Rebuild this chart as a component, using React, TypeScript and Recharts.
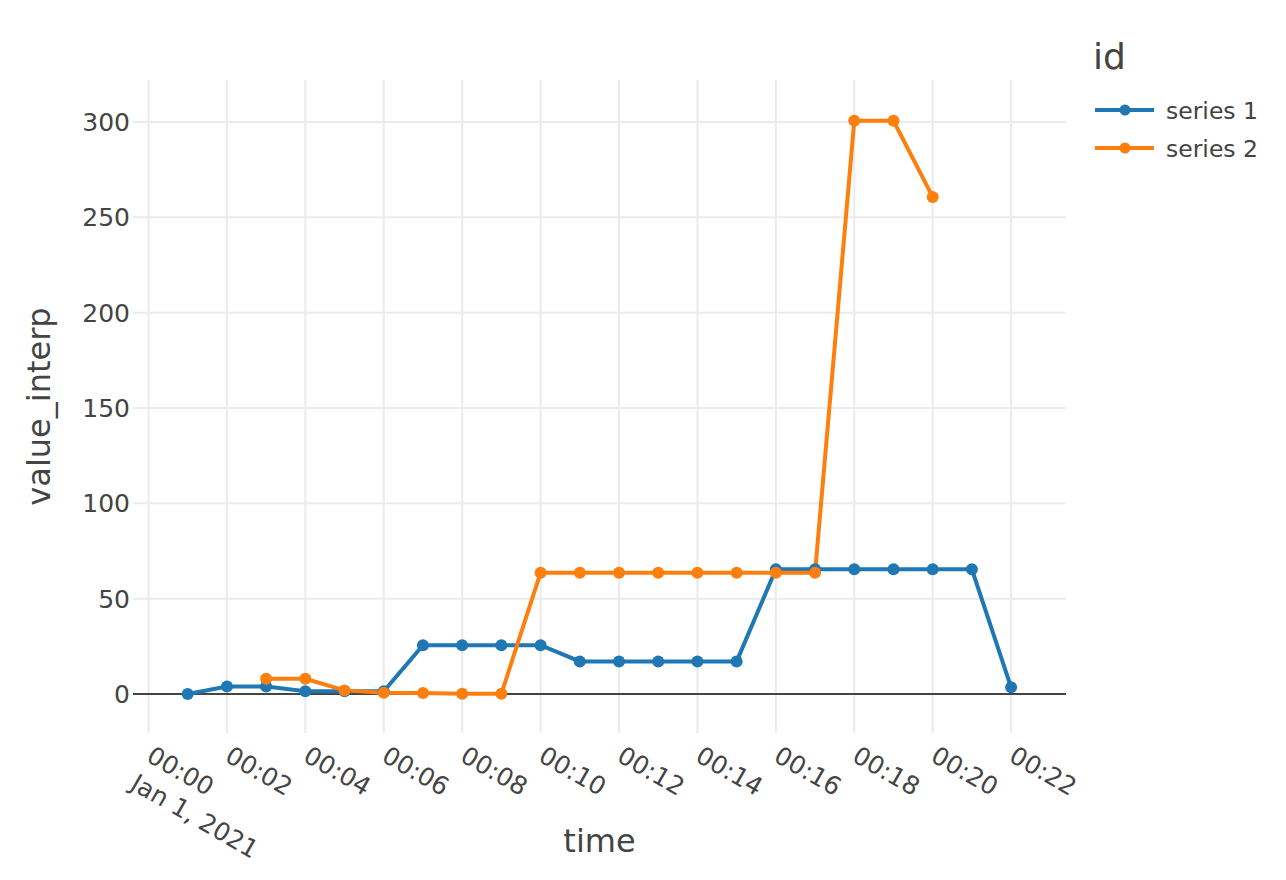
import { LineChart, Line, XAxis, YAxis, ReferenceLine, Legend } from "recharts";

// minutes after 2021-01-01 00:00
const minutes = [1, 2, 3, 4, 5, 6, 7, 8, 9, 10, 11, 12, 13, 14, 15, 16, 17, 18, 19, 20, 21, 22];

// value_interp per id (null where the series has no point)
const series1 = [0, 3.9, 3.9, 1.4, 1.4, 1.4, 25.6, 25.6, 25.6, 25.6, 17.1, 17.1, 17.1, 17.1, 17.1, 65.4, 65.4, 65.4, 65.4, 65.4, 65.4, 3.5];
const series2 = [null, null, 8, 8, 1.9, 0.7, 0.5, 0.1, 0.1, 63.6, 63.6, 63.6, 63.6, 63.6, 63.6, 63.6, 63.6, 300.6, 300.6, 260.7, null, null];

const xTicks = [0, 2, 4, 6, 8, 10, 12, 14, 16, 18, 20, 22];
const yTicks = [0, 50, 100, 150, 200, 250, 300];

const seriesNames = ["series 1", "series 2"];
const COLORS = ["#1f77b4", "#ff7f0e"];

const FONT = "'DejaVu Sans', Verdana, sans-serif";
const TEXT = "#444";
const GRID = "#ebebeb";

const data = minutes.map((t, i) => ({ t, s1: series1[i], s2: series2[i] }));

const pad = (n: number) => String(n).padStart(2, "0");

// rotated date tick, first one also carries the date line
function TimeTick(props: any) {
  const { x, y, payload, index } = props;
  const m = payload.value;
  return (
    <g transform={`translate(${x - 3.5},${y + 21.5})`}>
      <text transform="rotate(30)" textAnchor="start" fill={TEXT} fontSize={25} fontFamily={FONT}>
        <tspan x={0} y={0}>{`${pad(Math.floor(m / 60))}:${pad(m % 60)}`}</tspan>
        {index === 0 && (
          <tspan x={0} dy={32}>
            Jan 1, 2021
          </tspan>
        )}
      </text>
    </g>
  );
}

function XTitle(props: any) {
  const { x, y, width } = props.viewBox;
  return (
    <text x={x + width / 2} y={y + 119} textAnchor="middle" fill={TEXT} fontSize={32} fontFamily={FONT}>
      time
    </text>
  );
}

function YTitle(props: any) {
  const { y, height } = props.viewBox;
  const cy = y + height / 2;
  return (
    <text
      transform={`translate(50,${cy}) rotate(-90)`}
      textAnchor="middle"
      fill={TEXT}
      fontSize={32}
      fontFamily={FONT}
    >
      value_interp
    </text>
  );
}

function LegendBox() {
  return (
    <svg width={196} height={150} style={{ display: "block" }}>
      <text x={3} y={49} fill={TEXT} fontSize={36} fontFamily={FONT}>
        id
      </text>
      {seriesNames.map((name, i) => (
        <g key={name} transform={`translate(0,${90 + i * 38})`}>
          <line x1={5} x2={64} y1={0} y2={0} stroke={COLORS[i]} strokeWidth={3.8} />
          <circle cx={35} cy={0} r={5.5} fill={COLORS[i]} />
          <text x={76} y={9} fill={TEXT} fontSize={23.5} fontFamily={FONT}>
            {name}
          </text>
        </g>
      ))}
    </svg>
  );
}

export default function App() {
  return (
    <div style={{ position: "absolute", left: 0, top: 0, background: "#fff" }}>
      <LineChart width={1286} height={880} data={data} margin={{ top: 80, right: 24, bottom: 0, left: 0 }}>
        <XAxis
          dataKey="t"
          type="number"
          domain={[-0.395, 23.4]}
          allowDataOverflow
          ticks={xTicks}
          interval={0}
          height={147}
          tickLine={false}
          axisLine={false}
          tickMargin={0}
          tick={<TimeTick />}
          label={<XTitle />}
        />
        <YAxis
          type="number"
          domain={[-20.45, 322]}
          allowDataOverflow
          ticks={yTicks}
          interval={0}
          width={133}
          tickLine={false}
          axisLine={false}
          tickSize={0}
          tickMargin={3}
          tick={{ fill: TEXT, fontSize: 25, fontFamily: FONT }}
          label={<YTitle />}
        />
        {/* grid lines at the tick values */}
        {xTicks.map((v) => (
          <ReferenceLine key={`gx-${v}`} x={v} stroke={GRID} strokeWidth={2} />
        ))}
        {yTicks
          .filter((v) => v !== 0)
          .map((v) => (
            <ReferenceLine key={`gy-${v}`} y={v} stroke={GRID} strokeWidth={2} />
          ))}
        <ReferenceLine y={0} stroke="#444" strokeWidth={2} />
        <Line
          dataKey="s1"
          name={seriesNames[0]}
          stroke={COLORS[0]}
          strokeWidth={4}
          dot={{ r: 6, fill: COLORS[0], stroke: "none" }}
          activeDot={false}
          isAnimationActive={false}
        />
        <Line
          dataKey="s2"
          name={seriesNames[1]}
          stroke={COLORS[1]}
          strokeWidth={4}
          dot={{ r: 6, fill: COLORS[1], stroke: "none" }}
          activeDot={false}
          isAnimationActive={false}
        />
        <Legend
          layout="vertical"
          align="right"
          verticalAlign="top"
          content={<LegendBox />}
          wrapperStyle={{ position: "absolute", left: 1090, top: 20, width: 196, height: 150 }}
        />
      </LineChart>
    </div>
  );
}
